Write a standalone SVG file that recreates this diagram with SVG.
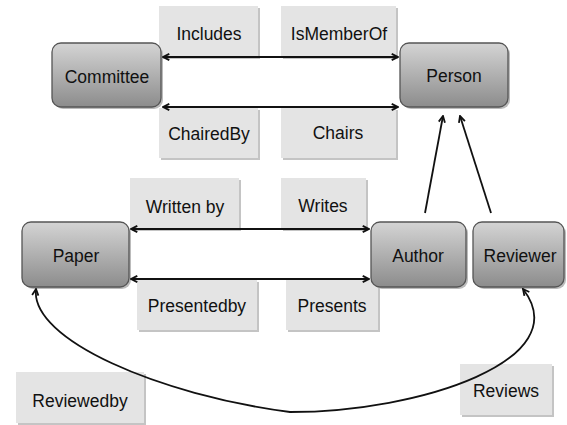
<svg xmlns="http://www.w3.org/2000/svg" width="567" height="425" viewBox="0 0 567 425">
<defs>
<linearGradient id="ng" x1="0" y1="0" x2="0" y2="1">
<stop offset="0" stop-color="#d4d4d4"/>
<stop offset="1" stop-color="#8c8c8c"/>
</linearGradient>
<marker id="ah" viewBox="0 0 10 10" refX="9" refY="5" markerWidth="9" markerHeight="9" orient="auto-start-reverse" markerUnits="userSpaceOnUse">
<path d="M2,1.5 L9,5 L2,8.5" fill="none" stroke="#111" stroke-width="2" stroke-linejoin="miter"/>
</marker>
</defs>
<style>
.lb{fill:#e4e4e4;}
.ls{fill:#c4c4c4;}
.nd{fill:url(#ng);stroke:#555;stroke-width:1.3;}
.ns{fill:#bbb;}
text{font-family:"Liberation Sans",Arial,sans-serif;font-size:17.5px;fill:#111;text-anchor:middle;}
.cn{fill:none;stroke:#111;stroke-width:2;}
.cc{fill:none;stroke:#111;stroke-width:1.8;}
</style>
<g id="lbl-includes"><rect class="ls" x="161" y="8" width="99" height="51"/><rect class="lb" x="159" y="6" width="99" height="51"/><text x="209" y="40">Includes</text></g>
<g id="lbl-ismemberof"><rect class="ls" x="283" y="8" width="115" height="51"/><rect class="lb" x="281" y="6" width="115" height="51"/><text x="339" y="40">IsMemberOf</text></g>
<g id="lbl-chairedby"><rect class="ls" x="161" y="110" width="99" height="50"/><rect class="lb" x="159" y="108" width="99" height="50"/><text x="209" y="140">ChairedBy</text></g>
<g id="lbl-chairs"><rect class="ls" x="283" y="110" width="115" height="50"/><rect class="lb" x="281" y="108" width="115" height="50"/><text x="338" y="139">Chairs</text></g>
<g id="lbl-writtenby"><rect class="ls" x="132" y="180" width="109" height="51"/><rect class="lb" x="130" y="178" width="109" height="51"/><text x="185" y="213">Written by</text></g>
<g id="lbl-writes"><rect class="ls" x="283" y="180" width="85" height="51"/><rect class="lb" x="281" y="178" width="85" height="51"/><text x="323" y="212">Writes</text></g>
<g id="lbl-presentedby"><rect class="ls" x="139" y="282" width="120" height="50"/><rect class="lb" x="137" y="280" width="120" height="50"/><text x="197" y="312">Presentedby</text></g>
<g id="lbl-presents"><rect class="ls" x="288" y="282" width="92" height="50"/><rect class="lb" x="286" y="280" width="92" height="50"/><text x="332" y="312">Presents</text></g>
<g id="lbl-reviewedby"><rect class="ls" x="18" y="374" width="128" height="51"/><rect class="lb" x="16" y="372" width="128" height="51"/><text x="80" y="407">Reviewedby</text></g>
<g id="lbl-reviews"><rect class="ls" x="462" y="366" width="92" height="51"/><rect class="lb" x="460" y="364" width="92" height="51"/><text x="506" y="397">Reviews</text></g>
<g id="node-committee"><rect class="ns" x="54" y="45" width="109" height="64" rx="9"/><rect class="nd" x="52" y="43" width="109" height="64" rx="9"/><text x="107" y="83">Committee</text></g>
<g id="node-person"><rect class="ns" x="402" y="45" width="108" height="64" rx="9"/><rect class="nd" x="400" y="43" width="108" height="64" rx="9"/><text x="454" y="82">Person</text></g>
<g id="node-paper"><rect class="ns" x="24" y="224" width="107" height="65" rx="9"/><rect class="nd" x="22" y="222" width="107" height="65" rx="9"/><text x="76" y="262">Paper</text></g>
<g id="node-author"><rect class="ns" x="373" y="224" width="95" height="65" rx="9"/><rect class="nd" x="371" y="222" width="95" height="65" rx="9"/><text x="418" y="262">Author</text></g>
<g id="node-reviewer"><rect class="ns" x="475" y="224" width="91" height="65" rx="9"/><rect class="nd" x="473" y="222" width="91" height="65" rx="9"/><text x="520" y="262">Reviewer</text></g>
<g id="connectors">
<line class="cn" x1="163" y1="57" x2="398" y2="57" marker-start="url(#ah)" marker-end="url(#ah)"/>
<line class="cn" x1="163" y1="107" x2="398" y2="107" marker-start="url(#ah)" marker-end="url(#ah)"/>
<line class="cn" x1="131" y1="229" x2="369" y2="229" marker-start="url(#ah)" marker-end="url(#ah)"/>
<line class="cn" x1="131" y1="279" x2="369" y2="279" marker-start="url(#ah)" marker-end="url(#ah)"/>
<line class="cc" x1="425" y1="213" x2="443" y2="116" marker-end="url(#ah)"/>
<line class="cc" x1="491" y1="213" x2="460" y2="116" marker-end="url(#ah)"/>
<path class="cc" d="M36,289 C30,340 160,395 290,412 C420,412 578,360 523,289" marker-start="url(#ah)" marker-end="url(#ah)"/>
</g>
</svg>
